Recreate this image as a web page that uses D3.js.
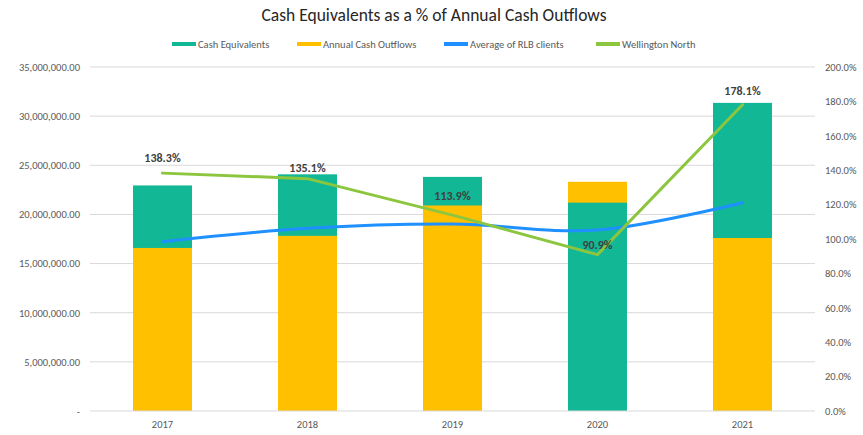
<!DOCTYPE html>
<html>
<head>
<meta charset="utf-8">
<script src="https://cdn.jsdelivr.net/npm/d3@7"></script>
<style>
  html, body { margin: 0; padding: 0; background: #fff; }
  svg { display: block; font-family: Carlito, Calibri, Lato, "Noto Sans", sans-serif; }
</style>
</head>
<body>
<svg id="chart" width="863" height="435"></svg>
<script>
// Chart data
const years = ["2017", "2018", "2019", "2020", "2021"];
const cashEquivalents = [22950000, 24080000, 23820000, 21200000, 31350000];
const annualCashOutflows = [16590000, 17820000, 20910000, 23320000, 17600000];
const rlbAverage = [0.984, 1.062, 1.087, 1.052, 1.211];
const wellingtonNorth = [1.383, 1.351, 1.139, 0.909, 1.781];
const leftTicks = [0, 5000000, 10000000, 15000000, 20000000, 25000000, 30000000, 35000000];
const rightTicks = [0, 0.2, 0.4, 0.6, 0.8, 1.0, 1.2, 1.4, 1.6, 1.8, 2.0];
const seriesNames = ["Cash Equivalents", "Annual Cash Outflows", "Average of RLB clients", "Wellington North"];

// Vertical nudges for the value labels (px above each point)
const labelLift = [11, 7, 15, 6, 10];

const colors = {
  cash: "#12b796",
  outflow: "#ffc000",
  rlb: "#1e90ff",
  wn: "#8cc63f",
  grid: "#d9d9d9",
  axisText: "#595959",
  label: "#404040"
};

const svg = d3.select("#chart");
const plot = { left: 90, right: 815, top: 67, bottom: 411 };

const x = d3.scaleBand().domain(years).range([plot.left, plot.right])
  .paddingInner(0.593).paddingOuter(0.2965);
const yLeft = d3.scaleLinear().domain([0, 35000000]).range([plot.bottom, plot.top]);
const yRight = d3.scaleLinear().domain([0, 2]).range([plot.bottom, plot.top]);

// Title
svg.append("text")
  .attr("x", 434).attr("y", 21)
  .attr("text-anchor", "middle")
  .attr("font-size", 17.5)
  .attr("fill", "#262626")
  .text("Cash Equivalents as a % of Annual Cash Outflows");

// Gridlines (left axis)
svg.append("g")
  .selectAll("line")
  .data(leftTicks.filter(d => d > 0))
  .join("line")
  .attr("x1", plot.left).attr("x2", plot.right)
  .attr("y1", d => yLeft(d)).attr("y2", d => yLeft(d))
  .attr("stroke", colors.grid).attr("stroke-width", 1);

// Left axis labels
const leftFmt = d => d === 0 ? "-" : d3.format(",.2f")(d);
const leftAxis = d3.axisLeft(yLeft).tickValues(leftTicks).tickFormat(leftFmt).tickSize(0).tickPadding(10);
const gL = svg.append("g").attr("transform", `translate(${plot.left},0)`).call(leftAxis);
gL.select(".domain").remove();
gL.selectAll("text").attr("font-size", 10.5).attr("fill", colors.axisText)
  .attr("font-family", "Carlito, Calibri, Lato, sans-serif");

// Right axis labels
const rightAxis = d3.axisRight(yRight).tickValues(rightTicks).tickFormat(d3.format(".1%")).tickSize(0).tickPadding(10);
const gR = svg.append("g").attr("transform", `translate(${plot.right},0)`).call(rightAxis);
gR.select(".domain").remove();
gR.selectAll("text").attr("font-size", 10.5).attr("fill", colors.axisText)
  .attr("font-family", "Carlito, Calibri, Lato, sans-serif");

// Bars: both series overlap on the same band; the taller one sits behind
const barData = years.map((yr, i) => {
  const items = [
    { key: "cash", value: cashEquivalents[i], color: colors.cash },
    { key: "outflow", value: annualCashOutflows[i], color: colors.outflow }
  ].sort((a, b) => b.value - a.value);
  return { year: yr, items };
});
svg.append("g")
  .selectAll("g")
  .data(barData)
  .join("g")
  .selectAll("rect")
  .data(d => d.items.map(it => ({ ...it, year: d.year })))
  .join("rect")
  .attr("x", d => x(d.year))
  .attr("width", x.bandwidth())
  .attr("y", d => yLeft(d.value))
  .attr("height", d => plot.bottom - yLeft(d.value))
  .attr("fill", d => d.color);

// Bottom axis line
svg.append("line")
  .attr("x1", plot.left).attr("x2", plot.right)
  .attr("y1", plot.bottom).attr("y2", plot.bottom)
  .attr("stroke", colors.grid).attr("stroke-width", 1);

// Year labels
const bottomAxis = d3.axisBottom(x).tickSize(0).tickPadding(10);
const gB = svg.append("g").attr("transform", `translate(0,${plot.bottom})`).call(bottomAxis);
gB.select(".domain").remove();
gB.selectAll("text").attr("font-size", 10.5).attr("fill", colors.axisText)
  .attr("font-family", "Carlito, Calibri, Lato, sans-serif");

const cx = yr => x(yr) + x.bandwidth() / 2;

// RLB average line (smoothed)
svg.append("path")
  .datum(rlbAverage)
  .attr("fill", "none")
  .attr("stroke", colors.rlb)
  .attr("stroke-width", 3)
  .attr("stroke-linecap", "round")
  .attr("d", d3.line().x((d, i) => cx(years[i])).y(d => yRight(d)).curve(d3.curveCatmullRom.alpha(0)));

// Wellington North line
svg.append("path")
  .datum(wellingtonNorth)
  .attr("fill", "none")
  .attr("stroke", colors.wn)
  .attr("stroke-width", 3)
  .attr("stroke-linecap", "round")
  .attr("d", d3.line().x((d, i) => cx(years[i])).y(d => yRight(d)));

// Wellington North value labels
svg.append("g")
  .selectAll("text")
  .data(wellingtonNorth)
  .join("text")
  .attr("x", (d, i) => cx(years[i]))
  .attr("y", (d, i) => yRight(d) - labelLift[i])
  .attr("text-anchor", "middle")
  .attr("font-size", 12)
  .attr("font-weight", "bold")
  .attr("fill", colors.label)
  .text(d => d3.format(".1%")(d));

// Legend
const legendItems = [
  { name: seriesNames[0], color: colors.cash, x: 172 },
  { name: seriesNames[1], color: colors.outflow, x: 297 },
  { name: seriesNames[2], color: colors.rlb, x: 444 },
  { name: seriesNames[3], color: colors.wn, x: 596 }
];
const lg = svg.append("g").selectAll("g").data(legendItems).join("g")
  .attr("transform", d => `translate(${d.x},44)`);
lg.append("rect").attr("x", 0).attr("y", -2).attr("width", 24).attr("height", 4).attr("fill", d => d.color);
lg.append("text").attr("x", 26).attr("y", 0).attr("dy", "0.35em")
  .attr("font-size", 10.5).attr("fill", colors.axisText)
  .text(d => d.name);
</script>
</body>
</html>
